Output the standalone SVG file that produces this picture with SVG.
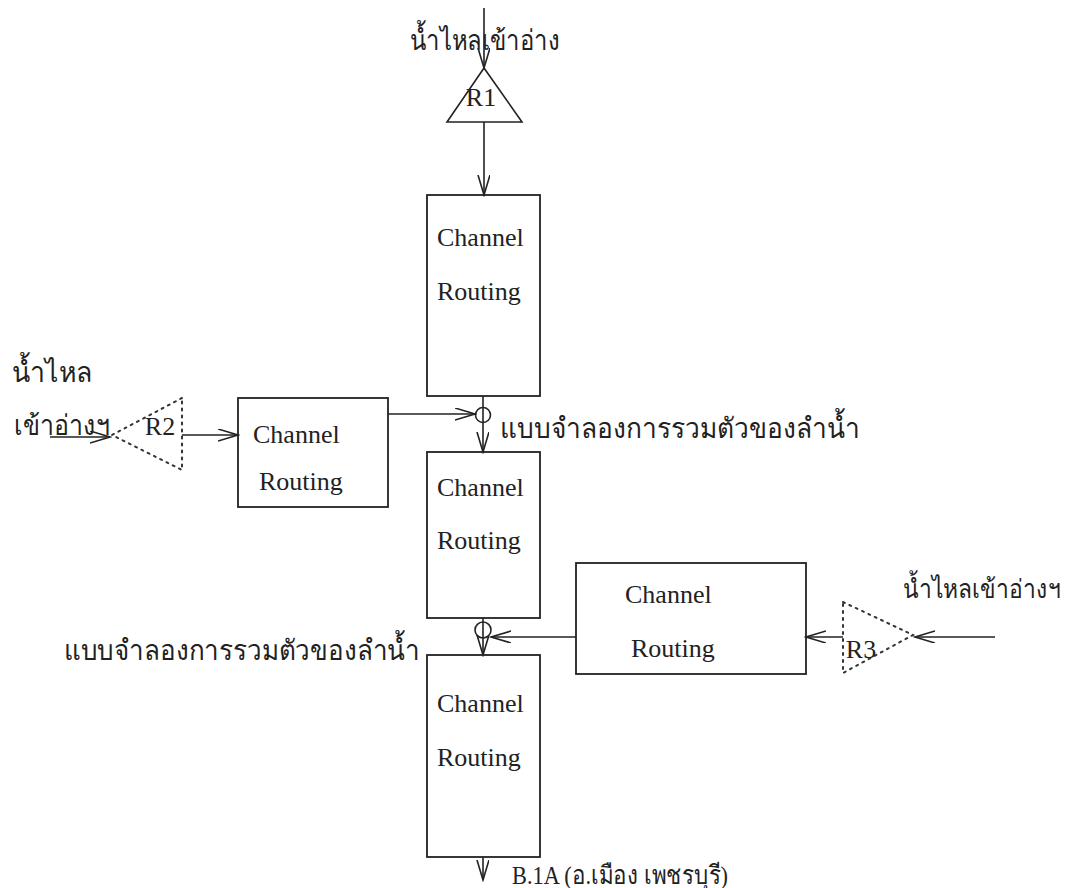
<svg xmlns="http://www.w3.org/2000/svg" width="1090" height="888" viewBox="0 0 1090 888">
<style>
.ln{stroke:#222;stroke-width:1.6;fill:none}
.dot{stroke:#333;stroke-width:2;fill:none;stroke-dasharray:2 5;stroke-linecap:round}
.box{stroke:#222;stroke-width:1.8;fill:none}
.t{font-family:"Liberation Serif","DejaVu Serif",serif;font-size:26px;fill:#222}
.th{font-family:"Liberation Serif","DejaVu Serif",serif;font-size:28px;fill:#222}
</style>
<defs>
<marker id="a" markerUnits="userSpaceOnUse" markerWidth="22" markerHeight="14" refX="20" refY="6" orient="auto">
<path d="M0,0 L20,6 L0,12" fill="none" stroke="#222" stroke-width="1.6"/>
</marker>
</defs>
<rect width="1090" height="888" fill="#fff"/>
<g id="connectors">
<line class="ln" x1="484" y1="8" x2="484" y2="68" marker-end="url(#a)"/>
<line class="ln" x1="484" y1="122" x2="484" y2="195" marker-end="url(#a)"/>
<line class="ln" x1="483" y1="396" x2="483" y2="452" marker-end="url(#a)"/>
<line class="ln" x1="388" y1="414" x2="475" y2="414" marker-end="url(#a)"/>
<line class="ln" x1="50" y1="437" x2="110" y2="437" marker-end="url(#a)"/>
<line class="ln" x1="182" y1="435" x2="238" y2="435" marker-end="url(#a)"/>
<line class="ln" x1="483" y1="618" x2="483" y2="655" marker-end="url(#a)"/>
<line class="ln" x1="576" y1="637" x2="491" y2="637" marker-end="url(#a)"/>
<line class="ln" x1="843" y1="637" x2="806" y2="637" marker-end="url(#a)"/>
<line class="ln" x1="995" y1="637" x2="915" y2="637" marker-end="url(#a)"/>
<line class="ln" x1="483" y1="857" x2="483" y2="880" marker-end="url(#a)"/>
</g>
<g id="R1">
<polygon class="ln" points="484,68 447,122 522,122"/>
<text class="t" x="481" y="106" text-anchor="middle">R1</text>
</g>
<g id="R2">
<polyline class="dot" points="182,398 112,435 182,470 182,398"/>
<text class="t" x="160" y="435" text-anchor="middle">R2</text>
</g>
<g id="R3">
<polyline class="dot" points="843,602 913,635 843,673 843,602"/>
<text class="t" x="861" y="658" text-anchor="middle">R3</text>
</g>
<g id="box1">
<rect class="box" x="427" y="195" width="113" height="201"/>
<text class="t" x="437" y="246">Channel</text>
<text class="t" x="437" y="300">Routing</text>
</g>
<g id="box2">
<rect class="box" x="238" y="398" width="150" height="109"/>
<text class="t" x="253" y="443">Channel</text>
<text class="t" x="259" y="490">Routing</text>
</g>
<g id="box3">
<rect class="box" x="427" y="452" width="113" height="166"/>
<text class="t" x="437" y="496">Channel</text>
<text class="t" x="437" y="549">Routing</text>
</g>
<g id="box4">
<rect class="box" x="576" y="563" width="230" height="111"/>
<text class="t" x="625" y="603">Channel</text>
<text class="t" x="631" y="657">Routing</text>
</g>
<g id="box5">
<rect class="box" x="427" y="655" width="113" height="202"/>
<text class="t" x="437" y="712">Channel</text>
<text class="t" x="437" y="766">Routing</text>
</g>
<g id="sum1">
<circle class="ln" cx="483" cy="415" r="7.5"/>
<text class="th" x="500" y="438" textLength="360" lengthAdjust="spacingAndGlyphs">แบบจำลองการรวมตัวของลำน้ำ</text>
</g>
<g id="sum2">
<circle class="ln" cx="483" cy="630" r="8"/>
<text class="th" x="64" y="660" textLength="356" lengthAdjust="spacingAndGlyphs">แบบจำลองการรวมตัวของลำน้ำ</text>
</g>
<g id="labels">
<text class="th" x="410" y="50" textLength="150" lengthAdjust="spacingAndGlyphs">น้ำไหลเข้าอ่าง</text>
<text class="th" x="12" y="382" textLength="80" lengthAdjust="spacingAndGlyphs">น้ำไหล</text>
<text class="th" x="14" y="435" textLength="96" lengthAdjust="spacingAndGlyphs">เข้าอ่างฯ</text>
<text class="th" x="903" y="598" style="font-size:26px" textLength="158" lengthAdjust="spacingAndGlyphs">น้ำไหลเข้าอ่างฯ</text>
<text class="t" x="512" y="884" textLength="216" lengthAdjust="spacingAndGlyphs">B.1A (อ.เมือง เพชรบุรี)</text>
</g>
</svg>
